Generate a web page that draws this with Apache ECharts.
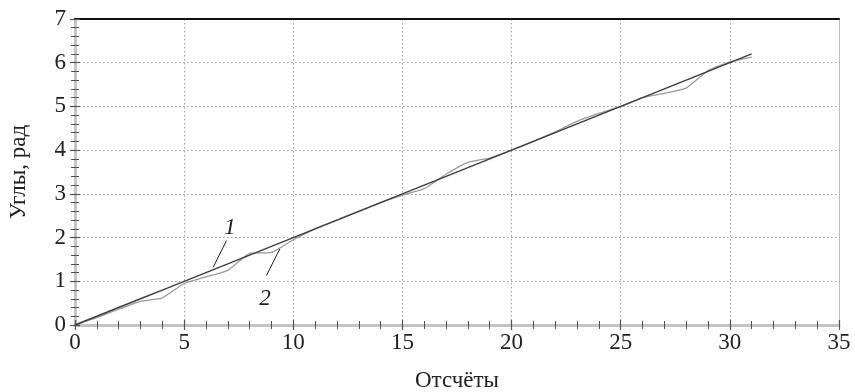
<!DOCTYPE html>
<html>
<head>
<meta charset="utf-8">
<script src="https://cdn.jsdelivr.net/npm/echarts@6/dist/echarts.min.js"></script>
<style>
  html, body { margin: 0; padding: 0; background: #fff; }
  #main { width: 855px; height: 392px; }
</style>
</head>
<body>
<div id="main"></div>
<script>
// samples (отсчёты)
var samples = [0,1,2,3,4,5,6,7,8,9,10,11,12,13,14,15,16,17,18,19,20,21,22,23,24,25,26,27,28,29,30,31];
// curve 1 - reference angles
var angles1 = [0,0.2,0.4,0.6,0.8,1.0,1.2,1.4,1.6,1.8,2.0,2.2,2.4,2.6,2.8,3.0,3.2,3.4,3.6,3.8,4.0,4.2,4.4,4.6,4.8,5.0,5.2,5.4,5.6,5.8,6.0,6.2];
// curve 2 - estimated angles
var angles2 = [0,0.17,0.36,0.54,0.62,0.95,1.1,1.25,1.64,1.66,1.95,2.2,2.4,2.6,2.8,2.97,3.12,3.45,3.72,3.82,4.0,4.2,4.42,4.66,4.84,5.0,5.2,5.3,5.42,5.82,6.02,6.13];

var xTicks = [0,5,10,15,20,25,30,35];
var yTicks = [0,1,2,3,4,5,6,7];

// leader lines for the curve labels
var label1 = { text: '1', at: [7.1, 2.22], from: [6.94, 1.93], to: [6.33, 1.32] };
var label2 = { text: '2', at: [8.7, 0.6], from: [8.77, 1.13], to: [9.38, 1.74] };

function pairs(xs, ys) {
  var out = [];
  for (var i = 0; i < xs.length; i++) out.push([xs[i], ys[i]]);
  return out;
}

var font = 'Liberation Serif';
var myChart = echarts.init(document.getElementById('main'));

var tickCommon = { show: true, length: 5, lineStyle: { color: '#555', width: 1.2 } };
var minorCommon = { show: true, splitNumber: 5, length: 4, lineStyle: { color: '#555', width: 1 } };
var gridDots = { show: true, lineStyle: { color: '#9a9a9a', type: [1.5, 2.5], width: 1 } };

var option = {
  animation: false,
  backgroundColor: '#fff',
  grid: { left: 75, right: 16, top: 19, bottom: 67, outerBoundsMode: 'none', containLabel: false },
  xAxis: [
    {
      type: 'value', min: 0, max: 35, interval: 5, position: 'bottom',
      name: 'Отсчёты', nameLocation: 'middle', nameGap: 44,
      nameTextStyle: { fontFamily: font, fontSize: 23, color: '#222' },
      axisLine: { show: true, onZero: false, lineStyle: { color: '#c4c4c4', width: 3 } },
      axisTick: Object.assign({ inside: false }, tickCommon),
      minorTick: Object.assign({}, minorCommon),
      axisLabel: { fontFamily: font, fontSize: 23, color: '#222', margin: 6,
        formatter: function (v) { return xTicks.indexOf(v) >= 0 ? v : ''; } },
      splitLine: gridDots
    },
    {
      type: 'value', min: 0, max: 35, interval: 5, position: 'bottom',
      axisLine: { show: false, onZero: false },
      axisTick: Object.assign({ inside: true }, tickCommon),
      minorTick: Object.assign({}, minorCommon, { inside: true }),
      axisLabel: { show: false }, splitLine: { show: false }
    },
    {
      type: 'value', min: 0, max: 35, position: 'top',
      axisLine: { show: true, onZero: false, lineStyle: { color: '#111', width: 2 } },
      axisTick: { show: false }, axisLabel: { show: false }, splitLine: { show: false }
    }
  ],
  yAxis: [
    {
      type: 'value', min: 0, max: 7, interval: 1, position: 'left',
      name: 'Углы, рад', nameLocation: 'middle', nameGap: 45,
      nameTextStyle: { fontFamily: font, fontSize: 23, color: '#222' },
      axisLine: { show: true, onZero: false, lineStyle: { color: '#c4c4c4', width: 3 } },
      axisTick: Object.assign({ inside: false }, tickCommon),
      minorTick: Object.assign({}, minorCommon),
      axisLabel: { fontFamily: font, fontSize: 23, color: '#222', margin: 9,
        formatter: function (v) { return yTicks.indexOf(v) >= 0 ? v : ''; } },
      splitLine: gridDots
    },
    {
      type: 'value', min: 0, max: 7, interval: 1, position: 'left',
      axisLine: { show: false, onZero: false },
      axisTick: Object.assign({ inside: true }, tickCommon),
      minorTick: Object.assign({}, minorCommon, { inside: true }),
      axisLabel: { show: false }, splitLine: { show: false }
    },
    {
      type: 'value', min: 0, max: 7, position: 'right',
      axisLine: { show: true, onZero: false, lineStyle: { color: '#bbb', width: 1 } },
      axisTick: { show: false }, axisLabel: { show: false }, splitLine: { show: false }
    }
  ],
  series: [
    {
      name: '2', type: 'line', data: pairs(samples, angles2),
      showSymbol: false, smooth: 0.15,
      lineStyle: { color: '#9a9a9a', width: 1.3 },
      z: 3
    },
    {
      name: '1', type: 'line', data: pairs(samples, angles1),
      showSymbol: false,
      lineStyle: { color: '#3c3c3c', width: 1.4 },
      z: 4,
      markLine: {
        silent: true, symbol: 'none', label: { show: false },
        lineStyle: { color: '#222', width: 1, type: 'solid' },
        data: [
          [{ coord: label1.from }, { coord: label1.to }],
          [{ coord: label2.from }, { coord: label2.to }]
        ]
      },
      markPoint: {
        silent: true, symbol: 'circle', symbolSize: 0,
        label: { show: true, fontFamily: font, fontStyle: 'italic', fontSize: 23, color: '#222',
          formatter: function (p) { return p.name; } },
        data: [
          { name: label1.text, coord: label1.at },
          { name: label2.text, coord: label2.at }
        ]
      }
    }
  ]
};

myChart.setOption(option);
</script>
</body>
</html>
